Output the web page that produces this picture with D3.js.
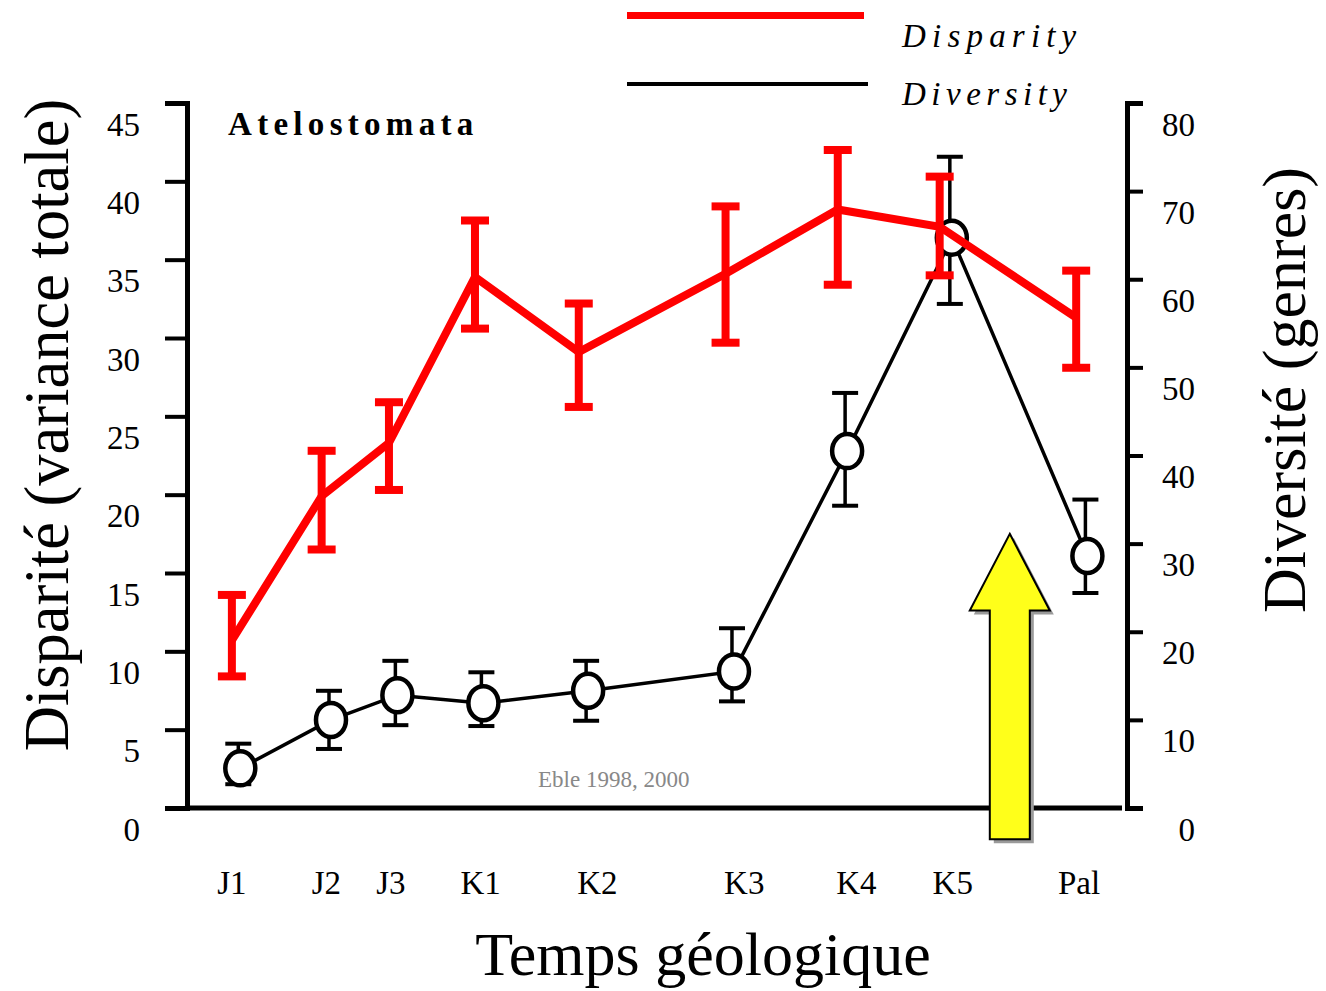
<!DOCTYPE html>
<html><head><meta charset="utf-8">
<script src="https://cdn.jsdelivr.net/npm/d3@7"></script>
<style>
body{margin:0;background:#fff;}
svg{display:block;font-family:"Liberation Serif","Times New Roman",serif;}
</style>
</head><body>
<svg id="c" width="1326" height="991"></svg>
<script>
// ---- data ----
const stages = ["J1","J2","J3","K1","K2","K3","K4","K5","Pal"];
const labelPos = [4.8,14.9,21.8,31.4,43.9,59.6,71.6,81.9,95.4];
const disparityPos = [4.8,14.4,21.6,30.8,41.9,57.6,69.6,80.5,95.1];
const diversityPos = [5.7,15.4,22.5,31.7,42.9,58.5,70.6,81.8,96.3];
const disparity   = [10.7,19.9,23.3,33.9,29.1,34.1,38.2,37.1,31.3];
const disparityHi = [13.6,22.8,25.9,37.5,32.2,38.4,42.0,40.3,34.3];
const disparityLo = [8.4,16.5,20.3,30.6,25.6,29.7,33.4,34.0,28.1];
const diversity   = [4.5,10.0,12.8,11.9,13.3,15.5,40.5,64.7,28.6];
const diversityHi = [7.3,13.3,16.7,15.4,16.7,20.4,47.1,73.9,35.0];
const diversityLo = [2.7,6.7,9.4,9.3,9.9,12.1,34.3,57.2,24.4];
const leftTicks = [0,5,10,15,20,25,30,35,40,45];
const rightTicks = [0,10,20,30,40,50,60,70,80];
const arrowAt = {x: 88.0, tip: 17.5, neck: 12.6, base: -2.0};

// ---- scales ----
const svg = d3.select("#c");
const x = d3.scaleLinear().domain([0,100]).range([187,1122]);
const yL = d3.scaleLinear().domain([0,45]).range([808,103]);
const yR = d3.scaleLinear().domain([0,80]).range([808,103]);

// ---- axes ----
const gl = svg.append("g").attr("transform","translate(187,0)")
  .call(d3.axisLeft(yL).tickValues(leftTicks).tickSize(22).tickSizeOuter(22).tickPadding(25));
const gr = svg.append("g").attr("transform","translate(1127,0)")
  .call(d3.axisRight(yR).tickValues(rightTicks).tickSize(16).tickSizeOuter(16).tickPadding(52));
[gl,gr].forEach(g=>{
  g.select(".domain").attr("stroke","#000").attr("stroke-width",5).attr("fill","none");
  g.selectAll(".tick line").attr("stroke","#000").attr("stroke-width",4);
  g.selectAll(".tick text").attr("font-size",33).attr("font-family","Liberation Serif, Times New Roman, serif")
    .attr("fill","#000").attr("dy",null).attr("y",32);
});
gr.selectAll(".tick text").attr("text-anchor","end").attr("x",68);
svg.append("line").attr("x1",x(0)).attr("x2",x(100)).attr("y1",yL(0)).attr("y2",yL(0))
  .attr("stroke","#000").attr("stroke-width",5);

// x labels
svg.append("g").selectAll("text").data(stages).join("text")
  .attr("x",(d,i)=>x(labelPos[i])).attr("y",894).attr("text-anchor","middle")
  .attr("font-size",33).text(d=>d);

// titles
svg.append("text").attr("transform","translate(68,425) rotate(-90)").attr("text-anchor","middle")
  .attr("font-size",62.5).text("Disparité (variance totale)");
svg.append("text").attr("transform","translate(1305,390) rotate(-90)").attr("text-anchor","middle")
  .attr("font-size",62).text("Diversité (genres)");
svg.append("text").attr("x",703).attr("y",975).attr("text-anchor","middle")
  .attr("font-size",62).text("Temps géologique");
svg.append("text").attr("x",228).attr("y",135).attr("font-size",33).attr("font-weight","bold")
  .attr("letter-spacing",5.3).text("Atelostomata");
svg.append("text").attr("x",538).attr("y",787).attr("font-size",23).attr("fill","#888")
  .text("Eble 1998, 2000");

// legend
svg.append("line").attr("x1",627).attr("x2",864).attr("y1",15.5).attr("y2",15.5).attr("stroke","#ff0000").attr("stroke-width",7);
svg.append("line").attr("x1",627).attr("x2",868).attr("y1",84).attr("y2",84).attr("stroke","#000").attr("stroke-width",4);
svg.append("text").attr("x",902).attr("y",47).attr("font-size",33).attr("font-style","italic").attr("letter-spacing",6.2).text("Disparity");
svg.append("text").attr("x",902).attr("y",105).attr("font-size",33).attr("font-style","italic").attr("letter-spacing",5.5).text("Diversity");

// ---- diversity (black) ----
const idx = d3.range(stages.length);
const gb = svg.append("g");
gb.append("path").datum(idx).attr("fill","none").attr("stroke","#000").attr("stroke-width",3.5)
  .attr("d",d3.line().x(i=>x(diversityPos[i])).y(i=>yR(diversity[i])));
gb.selectAll(".stem").data(idx).join("line")
  .attr("x1",i=>x(diversityPos[i])-2).attr("x2",i=>x(diversityPos[i])-2)
  .attr("y1",i=>yR(diversityHi[i])).attr("y2",i=>yR(diversityLo[i]))
  .attr("stroke","#000").attr("stroke-width",3.5);
gb.selectAll(".capH").data(idx).join("line")
  .attr("x1",i=>x(diversityPos[i])-15).attr("x2",i=>x(diversityPos[i])+11)
  .attr("y1",i=>yR(diversityHi[i])).attr("y2",i=>yR(diversityHi[i]))
  .attr("stroke","#000").attr("stroke-width",4);
gb.selectAll(".capL").data(idx).join("line")
  .attr("x1",i=>x(diversityPos[i])-15).attr("x2",i=>x(diversityPos[i])+11)
  .attr("y1",i=>yR(diversityLo[i])).attr("y2",i=>yR(diversityLo[i]))
  .attr("stroke","#000").attr("stroke-width",4);
gb.selectAll("ellipse").data(idx).join("ellipse")
  .attr("cx",i=>x(diversityPos[i])).attr("cy",i=>yR(diversity[i]))
  .attr("rx",15).attr("ry",17).attr("fill","#fff").attr("stroke","#000").attr("stroke-width",4.5);

// ---- disparity (red) ----
const red = "#ff0000";
const gred = svg.append("g");
gred.append("path").datum(idx).attr("fill","none").attr("stroke",red).attr("stroke-width",8)
  .attr("stroke-linejoin","miter")
  .attr("d",d3.line().x(i=>x(disparityPos[i])).y(i=>yL(disparity[i])));
gred.selectAll(".stem").data(idx).join("line")
  .attr("x1",i=>x(disparityPos[i])).attr("x2",i=>x(disparityPos[i]))
  .attr("y1",i=>yL(disparityHi[i])).attr("y2",i=>yL(disparityLo[i]))
  .attr("stroke",red).attr("stroke-width",8);
gred.selectAll(".capH").data(idx).join("line")
  .attr("x1",i=>x(disparityPos[i])-14).attr("x2",i=>x(disparityPos[i])+14)
  .attr("y1",i=>yL(disparityHi[i])).attr("y2",i=>yL(disparityHi[i]))
  .attr("stroke",red).attr("stroke-width",8);
gred.selectAll(".capL").data(idx).join("line")
  .attr("x1",i=>x(disparityPos[i])-14).attr("x2",i=>x(disparityPos[i])+14)
  .attr("y1",i=>yL(disparityLo[i])).attr("y2",i=>yL(disparityLo[i]))
  .attr("stroke",red).attr("stroke-width",8);

// ---- yellow arrow ----
const ax = x(arrowAt.x), aTip = yL(arrowAt.tip), aNeck = yL(arrowAt.neck), aBase = yL(arrowAt.base);
const arrowPts = [[ax,aTip],[ax+40,aNeck],[ax+20,aNeck],[ax+20,aBase],[ax-20,aBase],[ax-20,aNeck],[ax-40,aNeck]];
svg.append("polygon").attr("points",arrowPts.map(p=>[p[0]+4,p[1]+4].join(",")).join(" ")).attr("fill","#9a9a9a");
svg.append("polygon").attr("points",arrowPts.map(p=>p.join(",")).join(" "))
  .attr("fill","#ffff1a").attr("stroke","#000").attr("stroke-width",2);
</script>
</body></html>
